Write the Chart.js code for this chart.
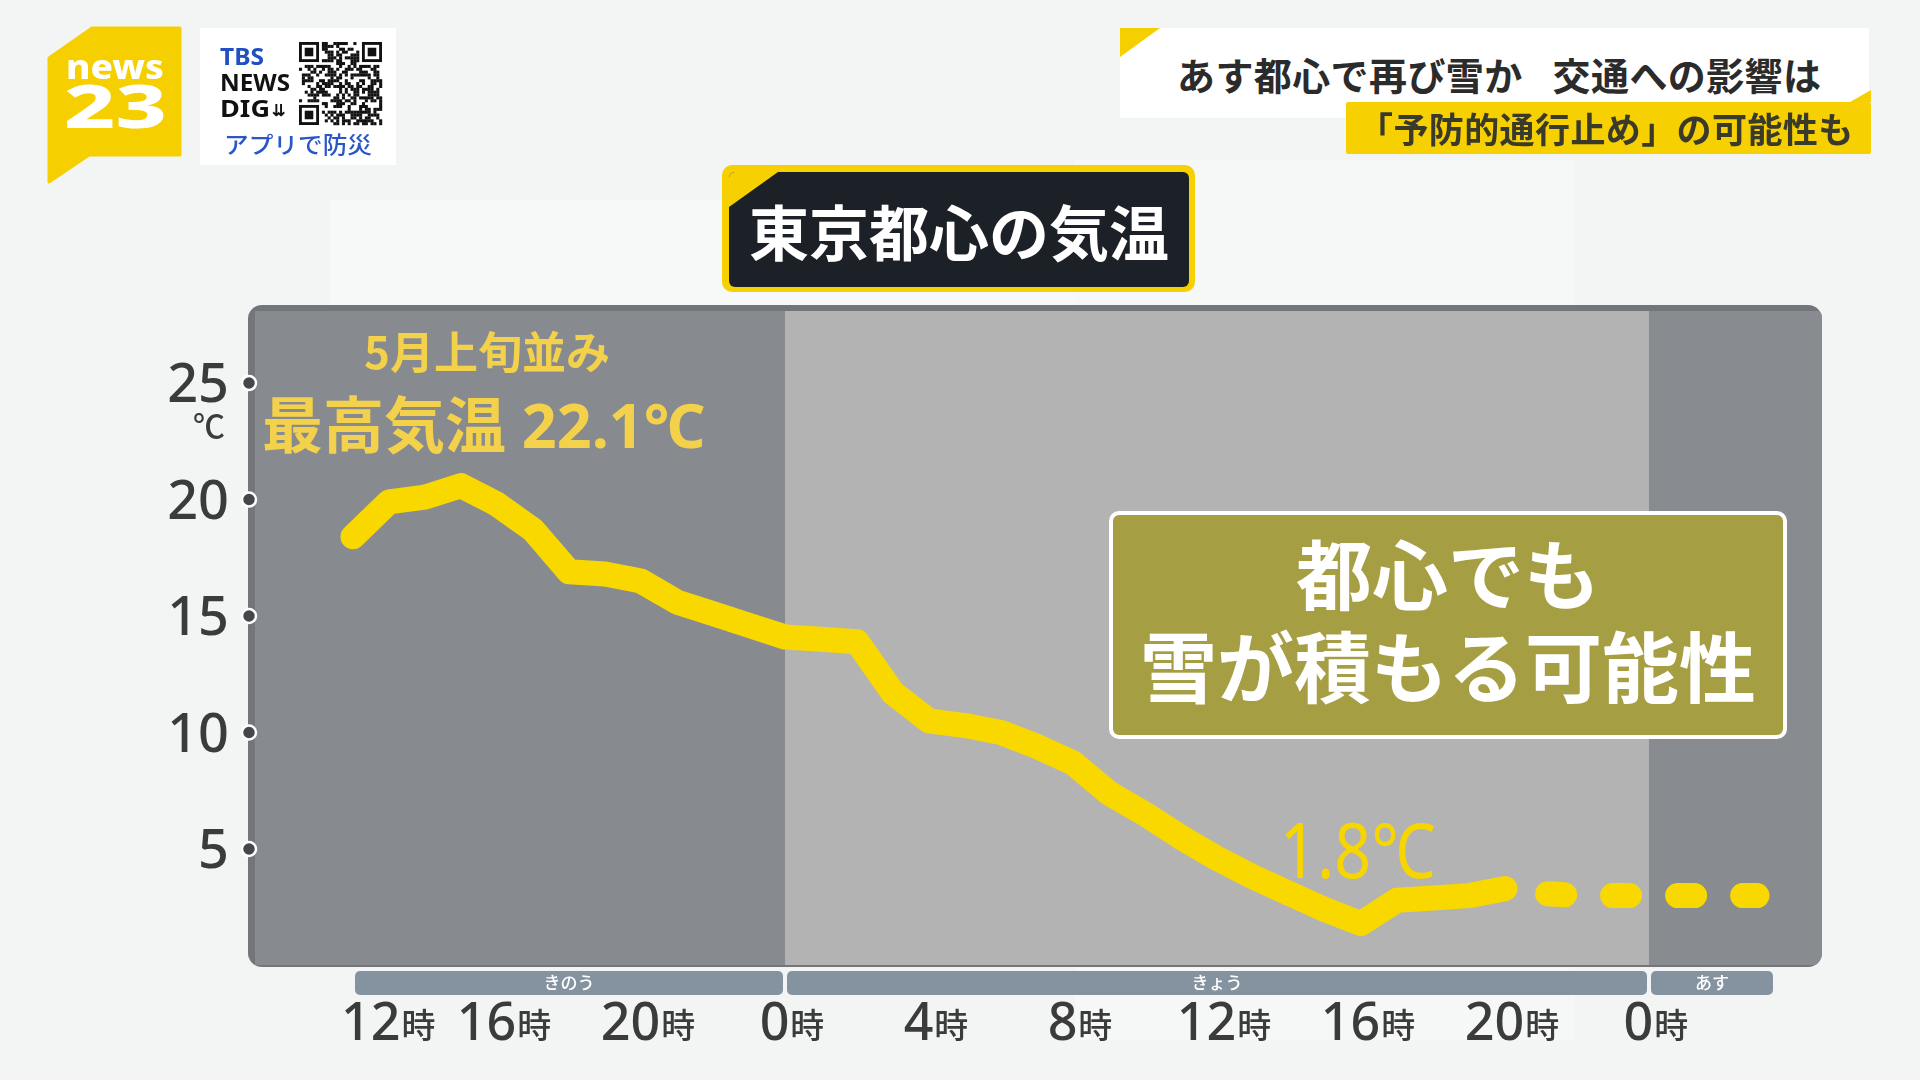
<!DOCTYPE html>
<html lang="ja">
<head>
<meta charset="utf-8">
<script src="https://cdn.jsdelivr.net/npm/chart.js@4.4.1/dist/chart.umd.min.js"></script>
<style>
  html,body{margin:0;padding:0;width:1920px;height:1080px;overflow:hidden;background:#f3f5f5;}
  #wrap{position:relative;width:1920px;height:1080px;}
  canvas#c{position:absolute;left:0;top:0;}
  .abs{position:absolute;}
  .jp{font-family:"Noto Sans CJK JP","Noto Sans",sans-serif;}
</style>
</head>
<body>
<div id="wrap">
  <div class="abs" style="left:0;top:0;width:1920px;height:1080px;">
    <div class="abs" style="left:330px;top:200px;width:990px;height:700px;background:#f7f8f8;"></div>
    <div class="abs" style="left:1075px;top:160px;width:500px;height:880px;background:#f6f7f7;"></div>
  </div>
  <canvas id="c" width="1920" height="1080"></canvas>

  <!-- news23 logo -->
  <svg class="abs" style="left:0;top:0;" width="420" height="200">
    <polygon points="49,58 92,28 180,28 180,155 89,155 49,182" fill="#f6cf00" stroke="#f6cf00" stroke-width="3" stroke-linejoin="round"/>
    <text x="66" y="79" font-family="Noto Sans, sans-serif" font-weight="800" font-size="33" fill="#ffffff" textLength="98" lengthAdjust="spacingAndGlyphs">news</text>
    <text x="64" y="128" font-family="Noto Sans, sans-serif" font-weight="800" font-size="60" fill="#ffffff" textLength="103" lengthAdjust="spacingAndGlyphs">23</text>
    <rect x="200" y="28" width="196" height="137" fill="#ffffff"/>
    <text x="220" y="65" font-family="Noto Sans, sans-serif" font-weight="700" font-size="23" fill="#1f4fc0" textLength="44" lengthAdjust="spacingAndGlyphs">TBS</text>
    <text x="220" y="91" font-family="Noto Sans, sans-serif" font-weight="700" font-size="24" fill="#111111" textLength="70" lengthAdjust="spacingAndGlyphs">NEWS</text>
    <text x="220" y="117" font-family="Noto Sans, sans-serif" font-weight="700" font-size="24" fill="#111111" textLength="50" lengthAdjust="spacingAndGlyphs">DIG</text>
    <text x="272" y="116" font-family="Noto Sans, sans-serif" font-weight="700" font-size="16" fill="#111111">⇊</text>
    <g id="qr"></g>
    <text x="224" y="153" font-family="Noto Sans CJK JP, sans-serif" font-weight="500" font-size="23" fill="#2a56c6" textLength="148" lengthAdjust="spacingAndGlyphs">アプリで防災</text>
  </svg>

  <!-- headline -->
  <div class="abs" style="left:1120px;top:28px;width:749px;height:90px;background:#ffffff;"></div>
  <svg class="abs" style="left:1100px;top:20px;" width="800" height="150">
    <polygon points="20,8 60,8 20,37" fill="#f6cf00"/>
    <polygon points="771,70 771,82 750,82" fill="#f6cf00"/>
  </svg>
  <div class="abs jp" style="left:1177px;top:44px;font-size:38px;font-weight:700;color:#2b2b2b;line-height:60px;white-space:nowrap;letter-spacing:0.4px;"><span>あす都心で再び雪か</span><span style="margin-left:30px;">交通への影響は</span></div>
  <div class="abs" style="left:1346px;top:102px;width:525px;height:52px;background:#f6d000;border-radius:2px;"></div>
  <div class="abs jp" style="left:1358px;top:102px;font-size:35px;font-weight:700;color:#3a3a2a;line-height:52px;white-space:nowrap;letter-spacing:0.4px;">「予防的通行止め」の可能性も</div>

  <!-- title -->
  <div class="abs" style="left:722px;top:165px;width:473px;height:127px;background:#f6d000;border-radius:10px;"></div>
  <div class="abs" style="left:729px;top:172px;width:460px;height:115px;background:#1c2027;border-radius:6px;overflow:hidden;">
    <svg class="abs" style="left:0;top:0;" width="60" height="40"><polygon points="0,0 49,0 0,35" fill="#f6d000"/></svg>
  </div>
  <div class="abs jp" style="left:729px;top:172px;width:460px;height:115px;display:flex;align-items:center;justify-content:center;font-size:60px;font-weight:700;color:#ffffff;">東京都心の気温</div>
</div>

<script>
// ---------- data ----------
const solidHours = [12,13,14,15,16,17,18,19,20,21,22,23,24,25,26,27,28,29,30,31,32,33,34,35,36,37,38,39,40,41,42,43,44];
const solidTemps = [18.4,19.9,20.1,20.6,19.8,18.7,16.9,16.8,16.5,15.6,15.1,14.6,14.1,14.0,13.9,11.7,10.5,10.3,10.0,9.4,8.7,7.4,6.5,5.5,4.6,3.8,3.1,2.4,1.8,2.8,2.9,3.0,3.3];
const forecastHours = [44,45,46,47,48,49,50,51];
const forecastTemps = [3.3,3.1,3.0,3.0,3.0,3.0,3.0,3.0];
const yTicks = [5,10,15,20,25];
const yUnit = '℃';
const xTickHours = [12,16,20,24,28,32,36,40,44,48];
const xTickLabels = ['12','16','20','0','4','8','12','16','20','0'];
const xTickSuffix = '時';
const dayNames = ['きのう','きょう','あす'];
const dayStartHours = [12,24,48];
const dayEndHours = [24,48,51.5];
const peakHour = 15;
const peakTemp = 20.6;
const peakNote = '5月上旬並み';
const peakLabel = '最高気温 22.1℃';
const minHour = 40;
const minTemp = 1.8;
const minLabel = '1.8℃';
const boxLines = ['都心でも','雪が積もる可能性'];

// ---------- QR-like decoration ----------
(function(){
  const g = document.getElementById('qr');
  const n = 29, x0 = 299, y0 = 42, s = 83/n;
  let html = '';
  let a = 0x9e3779b9;
  function rnd(){ a |= 0; a = a + 0x6D2B79F5 | 0; let t = Math.imul(a ^ a >>> 15, 1 | a); t = t + Math.imul(t ^ t >>> 7, 61 | t) ^ t; return ((t ^ t >>> 14) >>> 0) / 4294967296; }
  function finder(cx, cy){
    html += `<rect x="${x0+cx*s}" y="${y0+cy*s}" width="${7*s}" height="${7*s}" fill="#111"/>`;
    html += `<rect x="${x0+(cx+1)*s}" y="${y0+(cy+1)*s}" width="${5*s}" height="${5*s}" fill="#fff"/>`;
    html += `<rect x="${x0+(cx+2)*s}" y="${y0+(cy+2)*s}" width="${3*s}" height="${3*s}" fill="#111"/>`;
  }
  for(let i=0;i<n;i++) for(let j=0;j<n;j++){
    const inF = (i<8&&j<8)||(i<8&&j>=n-8)||(i>=n-8&&j<8);
    if(inF) continue;
    if(rnd() < 0.5) html += `<rect x="${x0+j*s}" y="${y0+i*s}" width="${s+0.2}" height="${s+0.2}" fill="#111"/>`;
  }
  finder(0,0); finder(n-7,0); finder(0,n-7);
  g.innerHTML = html;
})();

// ---------- helpers ----------
function txt(ctx, text, x, y, font, color, align, sx){
  sx = sx || 1;
  ctx.save();
  ctx.font = font; ctx.fillStyle = color; ctx.textBaseline = 'alphabetic'; ctx.textAlign = 'left';
  const w = ctx.measureText(text).width * sx;
  const left = align === 'center' ? x - w/2 : (align === 'right' ? x - w : x);
  ctx.translate(left, y); ctx.scale(sx, 1); ctx.fillText(text, 0, 0);
  ctx.restore();
  return w;
}

const panelPlugin = {
  id: 'panel',
  beforeDatasetsDraw(chart){
    const {ctx, chartArea:a, scales:{x}} = chart;
    const x24 = x.getPixelForValue(24), x48 = x.getPixelForValue(48);
    ctx.save();
    ctx.beginPath(); ctx.roundRect(a.left, a.top, a.right-a.left, a.bottom-a.top, 14); ctx.clip();
    ctx.fillStyle = '#72767b'; ctx.fillRect(a.left, a.top, a.right-a.left, a.bottom-a.top);
    const t = a.top + 6, h = a.bottom - t - 2;
    ctx.fillStyle = '#878b90'; ctx.fillRect(a.left+7, t, x24-(a.left+7), h);
    ctx.fillStyle = '#b3b3b3'; ctx.fillRect(x24, t, x48-x24, h);
    ctx.fillStyle = '#888c91'; ctx.fillRect(x48, t, a.right-x48, h);
    ctx.restore();
  },
  afterDatasetsDraw(chart){
    const {ctx, chartArea:a, scales:{x, y}} = chart;
    // y ticks
    yTicks.forEach(v => {
      const py = y.getPixelForValue(v);
      txt(ctx, String(v), 229, py + 19, '500 54px "Noto Sans"', '#3b3b3b', 'right');
      ctx.save();
      ctx.beginPath(); ctx.arc(a.left + 1, py, 7, 0, Math.PI*2);
      ctx.fillStyle = '#44474b'; ctx.fill();
      ctx.lineWidth = 2.5; ctx.strokeStyle = '#ffffff'; ctx.stroke();
      ctx.restore();
    });
    txt(ctx, yUnit, 209, y.getPixelForValue(yTicks[yTicks.length-1]) + 55, '500 32px "Noto Sans CJK JP"', '#3b3b3b', 'center');

    // day bars
    dayNames.forEach((name, i) => {
      const l = x.getPixelForValue(dayStartHours[i]) + 2;
      const r = x.getPixelForValue(dayEndHours[i]) - 2;
      ctx.save();
      ctx.beginPath(); ctx.roundRect(l, a.bottom + 4, r - l, 24, 5);
      ctx.fillStyle = '#8593a0'; ctx.fill();
      ctx.restore();
      txt(ctx, name, (l + r)/2, a.bottom + 22, '500 17px "Noto Sans CJK JP"', '#ffffff', 'center');
    });

    // x tick labels
    const barLeft = x.getPixelForValue(dayStartHours[0]);
    xTickHours.forEach((h, i) => {
      const numFont = '500 52px "Noto Sans"';
      const jiFont = '500 34px "Noto Sans CJK JP"';
      ctx.font = numFont; const wn = ctx.measureText(xTickLabels[i]).width;
      ctx.font = jiFont; const wj = ctx.measureText(xTickSuffix).width;
      const total = wn + wj + 1;
      let cx = x.getPixelForValue(h) + 7;
      if (cx - total/2 < barLeft - 12) cx = barLeft - 12 + total/2;
      const left = cx - total/2;
      txt(ctx, xTickLabels[i], left, 1040, numFont, '#3b3b3b', 'left');
      txt(ctx, xTickSuffix, left + wn + 1, 1038, jiFont, '#3b3b3b', 'left');
    });

    // peak annotation
    const px = x.getPixelForValue(peakHour), py = y.getPixelForValue(peakTemp);
    txt(ctx, peakNote, px + 26, py - 117, '700 44px "Noto Sans CJK JP"', '#f3d14b', 'center');
    txt(ctx, peakLabel, px - 199, py - 38, '700 61px "Noto Sans", "Noto Sans CJK JP"', '#f3d14b', 'left');

    // min annotation
    const mx = x.getPixelForValue(minHour), my = y.getPixelForValue(minTemp);
    txt(ctx, minLabel, mx - 81, my - 46, '400 76px "Noto Sans", "Noto Sans CJK JP"', '#f7d600', 'left', 0.85);

    // message box
    ctx.save();
    ctx.beginPath(); ctx.roundRect(1111, 513, 674, 224, 8);
    ctx.fillStyle = '#a59e43'; ctx.fill();
    ctx.lineWidth = 4; ctx.strokeStyle = '#ffffff'; ctx.stroke();
    ctx.restore();
    txt(ctx, boxLines[0], 1448, 604, '700 76px "Noto Sans CJK JP"', '#ffffff', 'center');
    txt(ctx, boxLines[1], 1448, 697, '700 77px "Noto Sans CJK JP"', '#ffffff', 'center');
  }
};

const ctx = document.getElementById('c').getContext('2d');
new Chart(ctx, {
  type: 'line',
  data: {
    datasets: [
      {
        data: solidHours.map((h, i) => ({x: h, y: solidTemps[i]})),
        borderColor: '#f9d800', borderWidth: 25,
        borderJoinStyle: 'round', borderCapStyle: 'round',
        tension: 0, pointRadius: 0, fill: false
      },
      {
        data: forecastHours.map((h, i) => ({x: h, y: forecastTemps[i]})),
        borderColor: '#f9d800', borderWidth: 25,
        borderJoinStyle: 'round', borderCapStyle: 'round',
        borderDash: [17, 48], borderDashOffset: 22,
        tension: 0, pointRadius: 0, fill: false
      }
    ]
  },
  options: {
    responsive: false, animation: false, devicePixelRatio: 1,
    layout: {padding: {left: 248, right: 98, top: 305, bottom: 113}},
    scales: {
      x: {type: 'linear', display: false, min: 9.083, max: 52.806},
      y: {type: 'linear', display: false, min: -0.064, max: 28.35}
    },
    plugins: {legend: {display: false}, tooltip: {enabled: false}, title: {display: false}},
    events: []
  },
  plugins: [panelPlugin]
});
</script>
</body>
</html>
